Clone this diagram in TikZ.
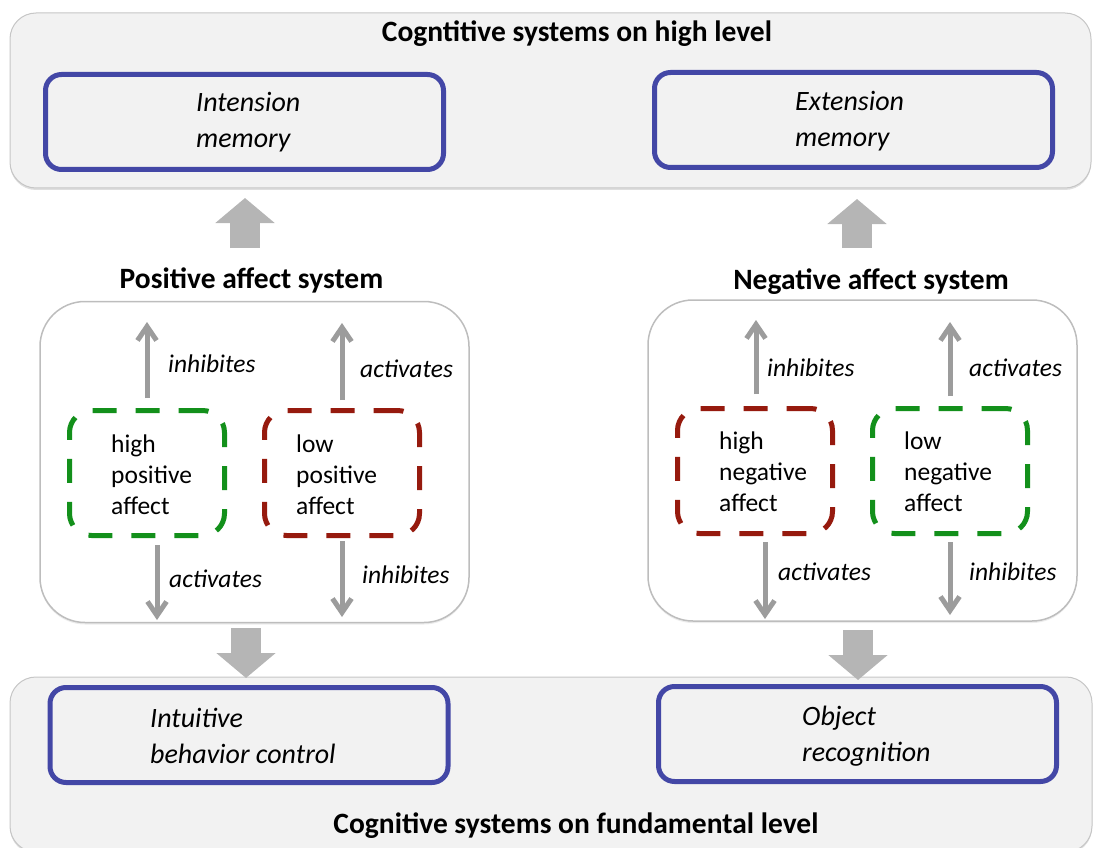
\documentclass[tikz,border=0pt]{standalone}
\usepackage{fontspec}
\setmainfont{Carlito}
\usetikzlibrary{arrows.meta,shadows}
\definecolor{panelfill}{HTML}{F2F2F2}
\definecolor{panelline}{HTML}{C6C6C6}
\definecolor{affline}{HTML}{BDBDBD}
\definecolor{boxblue}{HTML}{4347A6}
\definecolor{affgreen}{HTML}{13901B}
\definecolor{affred}{HTML}{961A0E}
\definecolor{arrgray}{HTML}{9C9C9C}
\definecolor{blockgray}{HTML}{B5B5B5}
\begin{document}
\begin{tikzpicture}[x=1pt,y=-1pt,
  levelpanel/.style={draw=panelline, fill=panelfill, line width=1pt,
    rounded corners=26pt, inner sep=0pt,
    drop shadow={shadow xshift=0pt,shadow yshift=-2pt,opacity=0.25}},
  leveltitle/.style={font=\fontsize{29.5}{34}\selectfont\bfseries, inner sep=0pt, anchor=base},
  membox/.style={draw=boxblue, fill=panelfill, line width=5pt, rounded corners=16pt,
    minimum width=398pt, minimum height=95pt, inner sep=0pt,
    drop shadow={shadow xshift=0pt,shadow yshift=-2pt,opacity=0.15}},
  memtext/.style={align=left, inner sep=0pt, anchor=west,
    font=\fontsize{28}{36}\selectfont\itshape},
  affpanel/.style={draw=affline, fill=white, line width=1.5pt, rounded corners=45pt,
    minimum width=429pt, minimum height=321pt, inner sep=0pt,
    drop shadow={shadow xshift=0pt,shadow yshift=-2pt,opacity=0.15}},
  affbox/.style={line width=5pt, dash pattern=on 24pt off 19pt, rounded corners=22pt,
    fill=white, minimum width=155pt, minimum height=125pt, inner sep=0pt},
  afftext/.style={align=left, inner sep=0pt, anchor=west,
    font=\fontsize{25.5}{31}\selectfont},
  thinarrow/.style={draw=arrgray, line width=5pt,
    -{Straight Barb[length=14pt,width=19pt]}},
  arrlabel/.style={font=\fontsize{25.5}{30}\selectfont\itshape, inner sep=0pt, anchor=base west},
  blockarrow/.style={draw=blockgray, line width=30pt, -{Triangle[length=25pt,width=58pt]}}
]
\useasboundingbox (0,0) rectangle (1093,848);

% high level cognitive systems
\node[levelpanel, minimum width=1081pt, minimum height=175pt] (high) at (550.5,100.5) {};
\node[leveltitle] (hightitle) at (577,42) {Cogntitive systems on high level};
\node[membox] (intension) at (244.5,122) {};
\node[membox] (extension) at (853.5,120) {};
\node[memtext] (intensionText) at (196,122.5) {Intension\\memory};
\node[memtext] (extensionText) at (795,121.5) {Extension\\memory};

% fundamental level cognitive systems
\node[levelpanel, minimum width=1082pt, minimum height=175pt] (fund) at (551,764.5) {};
\node[leveltitle] (fundtitle) at (576,833) {Cognitive systems on fundamental level};
\node[membox] (intuitive) at (249,735) {};
\node[membox] (object) at (857.5,734) {};
\node[memtext] (intuitiveText) at (150,735.5) {Intuitive\\behavior control};
\node[memtext] (objectText) at (802,736.5) {Object\\recognition};

% affect systems
\node[leveltitle] (postitle) at (251.5,288) {Positive affect system};
\node[leveltitle] (negtitle) at (871,289) {Negative affect system};
\node[affpanel] (pospanel) at (254.5,462) {};
\node[affpanel] (negpanel) at (862.5,460.5) {};

\node[affbox, draw=affgreen] (hpa) at (147,473) {};
\node[affbox, draw=affred] (lpa) at (342,473) {};
\node[affbox, draw=affred] (hna) at (755,471) {};
\node[affbox, draw=affgreen] (lna) at (950,471) {};
\node[afftext] (hpaText) at (111,475) {high\\positive\\affect};
\node[afftext] (lpaText) at (296,475) {low\\positive\\affect};
\node[afftext] (hnaText) at (719,472) {high\\negative\\affect};
\node[afftext] (lnaText) at (904,472) {low\\negative\\affect};

% arrow end points
\coordinate (hpaUp) at (147,322);
\coordinate (lpaUp) at (342,323);
\coordinate (hpaDown) at (157,620);
\coordinate (lpaDown) at (342,617);
\coordinate (hnaUp) at (756,320);
\coordinate (lnaUp) at (950,322);
\coordinate (hnaDown) at (765,619);
\coordinate (lnaDown) at (950,615);

\draw[thinarrow] ([yshift=10pt]hpa.north) -- (hpaUp);
\draw[thinarrow] ([yshift=8pt]lpa.north) -- (lpaUp);
\draw[thinarrow] ([xshift=10pt,yshift=-7pt]hpa.south) -- (hpaDown);
\draw[thinarrow] ([yshift=-3pt]lpa.south) -- (lpaDown);
\draw[thinarrow] ([xshift=1pt,yshift=12pt]hna.north) -- (hnaUp);
\draw[thinarrow] ([yshift=10pt]lna.north) -- (lnaUp);
\draw[thinarrow] ([xshift=10pt,yshift=-6pt]hna.south) -- (hnaDown);
\draw[thinarrow] ([yshift=-6pt]lna.south) -- (lnaDown);

\node[arrlabel] (l1) at (168,372) {inhibites};
\node[arrlabel] (l2) at (360,377) {activates};
\node[arrlabel] (l3) at (169,587) {activates};
\node[arrlabel] (l4) at (362,583) {inhibites};
\node[arrlabel] (l5) at (767,376) {inhibites};
\node[arrlabel] (l6) at (969,376) {activates};
\node[arrlabel] (l7) at (778,580) {activates};
\node[arrlabel] (l8) at (969,580) {inhibites};

% block arrows between the levels
\coordinate (posUpFrom) at (245,248);
\coordinate (posUpTo) at (245,198);
\coordinate (negUpFrom) at (857,248);
\coordinate (negUpTo) at (857,199);
\coordinate (posDownFrom) at (246,628);
\coordinate (posDownTo) at (246,678);
\coordinate (negDownFrom) at (858,630);
\coordinate (negDownTo) at (858,680);
\draw[blockarrow] (posUpFrom) -- (posUpTo);
\draw[blockarrow] (negUpFrom) -- (negUpTo);
\draw[blockarrow] (posDownFrom) -- (posDownTo);
\draw[blockarrow] (negDownFrom) -- (negDownTo);
\end{tikzpicture}
\end{document}
